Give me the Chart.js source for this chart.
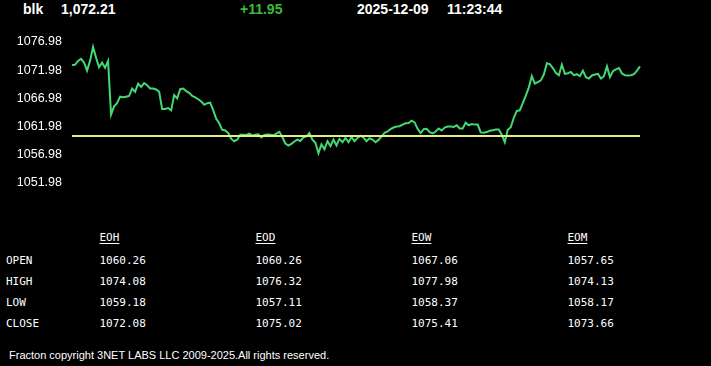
<!DOCTYPE html>
<html>
<head>
<meta charset="utf-8">
<script src="https://cdn.jsdelivr.net/npm/chart.js@4/dist/chart.umd.min.js"></script>
<style>
  html, body { margin: 0; padding: 0; background: #000; }
  body { width: 711px; height: 366px; position: relative; overflow: hidden; font-family: "Liberation Sans", Arial, sans-serif; color: #fff; }
  #wrap { position: absolute; left: 0; top: 0; width: 711px; height: 200px; }
  .hd { position: absolute; top: 1px; font-weight: bold; font-size: 14px; line-height: 16px; white-space: nowrap; }
  .tb { position: absolute; font-family: "DejaVu Sans Mono", monospace; font-size: 11px; line-height: 12px; white-space: nowrap; color: #fff; }
  .tb.h { text-decoration: underline; text-underline-offset: 2px; }
  #copy { position: absolute; left: 9px; top: 348px; font-size: 11px; line-height: 14px; white-space: nowrap; }
</style>
</head>
<body>
<div class="hd" style="left:23px" id="sym"></div>
<div class="hd" style="left:61px" id="last"></div>
<div class="hd" style="left:240px;color:#3cba3c" id="chg"></div>
<div class="hd" style="left:357px" id="dt"></div>
<div class="hd" style="left:447px" id="tm"></div>
<div id="wrap"><canvas id="chart"></canvas></div>
<div id="table"></div>
<div id="copy">Fracton copyright 3NET LABS LLC 2009-2025.All rights reserved.</div>
<script>
// header
const symbol = 'blk';
const lastPrice = '1,072.21';
const change = '+11.95';
const quoteDate = '2025-12-09';
const quoteTime = '11:23:44';

// previous close (yellow reference line)
const prevClose = 1060.26;

// y axis tick labels
const yTicks = [1051.98, 1056.98, 1061.98, 1066.98, 1071.98, 1076.98];

// intraday price left to right
const price = [
    1072.87, 1072.92, 1073.62, 1073.97, 1073.33, 1071.88, 1073.62, 1076.10, 1074.20, 1072.50,
    1073.30, 1072.40, 1073.62, 1064.07, 1065.52, 1066.10, 1067.25, 1067.14, 1067.25, 1067.37,
    1068.70, 1068.12, 1069.57, 1068.99, 1069.68, 1069.28, 1068.70, 1068.70, 1068.53, 1068.12,
    1065.05, 1065.05, 1065.23, 1064.82, 1067.54, 1066.96, 1068.58, 1068.70, 1068.24, 1067.95,
    1067.37, 1067.14, 1066.79, 1066.39, 1065.81, 1066.10, 1066.21, 1064.82, 1063.32,
    1062.51, 1061.35, 1061.24, 1060.77, 1059.73, 1059.33, 1059.62, 1060.48, 1060.48, 1060.43,
    1060.66, 1060.31, 1060.48, 1060.54, 1060.02, 1060.43, 1060.54, 1060.48, 1060.37, 1060.66,
    1061.00, 1060.08, 1058.92, 1058.57, 1058.86, 1059.27, 1059.62, 1059.38, 1060.02, 1060.19,
    1060.77, 1059.62, 1059.04, 1057.18, 1058.75, 1057.88, 1059.33, 1058.46, 1059.62, 1058.57,
    1059.73, 1059.15, 1059.91, 1059.15, 1060.08, 1059.33, 1059.91, 1060.31,
    1059.96, 1059.33, 1059.85, 1059.62, 1059.15, 1059.56, 1060.19, 1060.83, 1061.06, 1061.47,
    1061.76, 1061.93, 1061.99, 1062.28, 1062.51, 1062.57, 1062.97, 1062.68, 1061.53, 1060.77,
    1061.47, 1061.53, 1060.95, 1060.72, 1061.06, 1061.58, 1061.24, 1061.76, 1061.93, 1061.93,
    1061.87, 1062.16, 1061.58, 1061.58, 1062.62, 1062.16, 1062.39, 1062.28, 1062.28, 1060.89,
    1060.83, 1060.95, 1061.18, 1061.29, 1061.41, 1061.41,
    1060.48, 1059.15, 1061.35, 1061.81, 1063.49, 1064.71, 1064.82, 1066.10, 1067.43, 1068.87,
    1070.90, 1069.57, 1069.86, 1070.15, 1071.19, 1073.21, 1073.04, 1072.35, 1071.48, 1071.07,
    1072.93, 1071.31, 1071.42, 1071.65, 1071.07, 1071.25, 1070.90, 1071.88, 1070.73, 1070.49,
    1071.02, 1071.19, 1071.31, 1070.49, 1070.90, 1072.64, 1070.73, 1071.77, 1072.12, 1072.35,
    1071.36, 1071.07, 1071.02, 1071.07, 1071.25, 1071.88, 1072.64
];

// summary table
const periods = ['EOH', 'EOD', 'EOW', 'EOM'];
const rowNames = ['OPEN', 'HIGH', 'LOW', 'CLOSE'];
const openVals = ['1060.26', '1060.26', '1067.06', '1057.65'];
const highVals = ['1074.08', '1076.32', '1077.98', '1074.13'];
const lowVals = ['1059.18', '1057.11', '1058.37', '1058.17'];
const closeVals = ['1072.08', '1075.02', '1075.41', '1073.66'];

document.getElementById('sym').textContent = symbol;
document.getElementById('last').textContent = lastPrice;
document.getElementById('chg').textContent = change;
document.getElementById('dt').textContent = quoteDate;
document.getElementById('tm').textContent = quoteTime;

// build the table
const table = document.getElementById('table');
const colX = [99.5, 255.5, 411.5, 567.5];
const rowTop = [254.5, 275.8, 297.1, 318.4];
function addCell(text, x, y, cls) {
    const d = document.createElement('div');
    d.className = 'tb' + (cls ? ' ' + cls : '');
    d.style.left = x + 'px';
    d.style.top = y + 'px';
    d.textContent = text;
    table.appendChild(d);
}
periods.forEach((p, i) => addCell(p, colX[i], 232, 'h'));
[openVals, highVals, lowVals, closeVals].forEach((vals, r) => {
    addCell(rowNames[r], 6, rowTop[r]);
    vals.forEach((v, c) => addCell(v, colX[c], rowTop[r]));
});

// chart
const labels = price.map((_, i) => i);
const baseline = labels.map(() => prevClose);

new Chart(document.getElementById('chart'), {
    type: 'line',
    data: {
        labels: labels,
        datasets: [
            { data: baseline, borderColor: '#e4ee84', borderWidth: 2, pointRadius: 0, tension: 0 },
            { data: price, borderColor: '#44d873', borderWidth: 2, pointRadius: 0, tension: 0 }
        ]
    },
    options: {
        responsive: true,
        maintainAspectRatio: false,
        animation: false,
        layout: { padding: { top: 42, bottom: 14, right: 71, left: 0 } },
        plugins: { legend: { display: false }, tooltip: { enabled: false } },
        scales: {
            x: { display: false },
            y: {
                min: yTicks[0],
                max: yTicks[yTicks.length - 1],
                afterBuildTicks: (scale) => { scale.ticks = yTicks.map(v => ({ value: v })); },
                afterFit: (scale) => { scale.width = 72; },
                border: { display: false },
                grid: { display: false, drawTicks: false },
                ticks: {
                    padding: 10,
                    color: '#ffffff',
                    font: { family: '"Liberation Sans", Arial, sans-serif', size: 12.5 },
                    callback: (v) => Number(v).toFixed(2)
                }
            }
        }
    }
});
</script>
</body>
</html>
